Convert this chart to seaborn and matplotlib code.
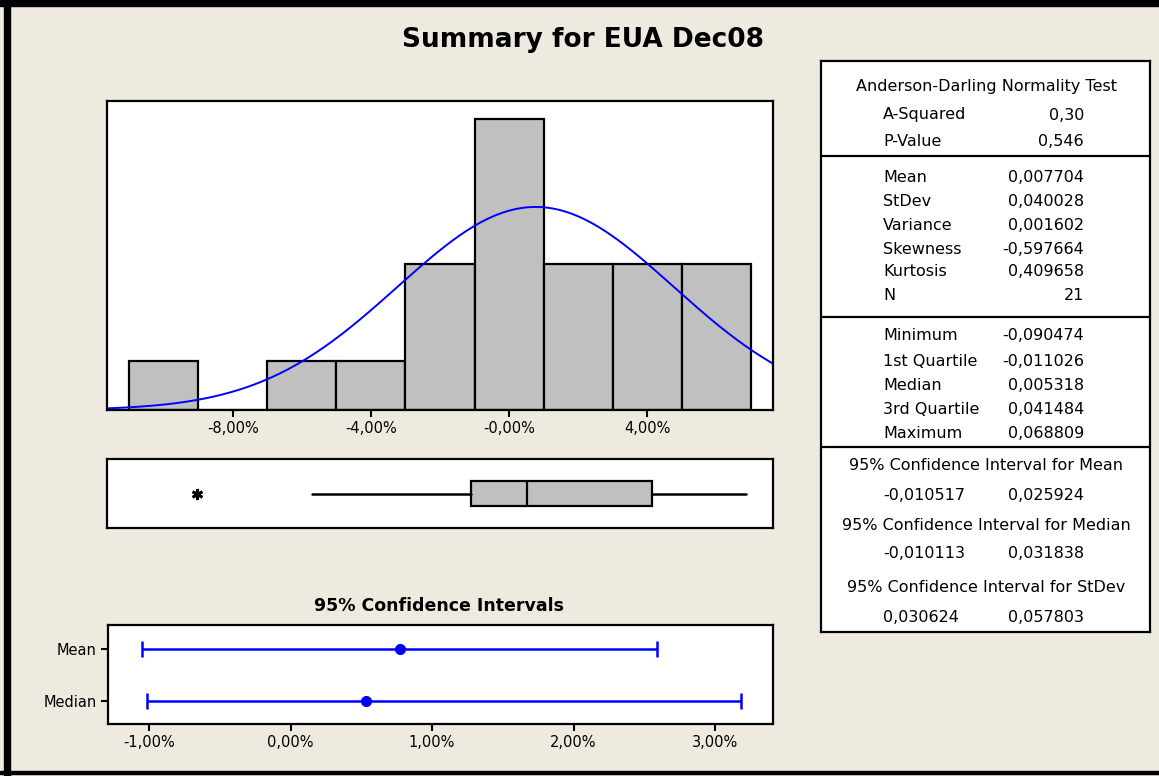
import numpy as np
import pandas as pd
import matplotlib
matplotlib.use("Agg")
import matplotlib.pyplot as plt
from matplotlib.patches import Rectangle
import seaborn as sns

# ---------------- data ----------------
bin_centers = [-0.10, -0.06, -0.04, -0.02, 0.00, 0.02, 0.04, 0.06]
bin_counts = [1, 1, 1, 3, 6, 3, 3, 3]
bin_width = 0.02

n_obs = 21
mean_val = 0.007704
stdev_val = 0.040028

box_min = -0.090474
box_q1 = -0.011026
box_median = 0.005318
box_q3 = 0.041484
box_max = 0.068809
box_whisker_low = -0.0572   # lowest non-outlier value
box_outliers = [-0.090474]

hist_ticks = [-0.08, -0.04, 0.0, 0.04]
hist_tick_labels = ["-8,00%", "-4,00%", "-0,00%", "4,00%"]

ci_labels = ["Mean", "Median"]
ci_centers = [0.007704, 0.005318]
ci_lows = [-0.010517, -0.010113]
ci_highs = [0.025924, 0.031838]
ci_ticks = [-0.01, 0.0, 0.01, 0.02, 0.03]
ci_tick_labels = ["-1,00%", "0,00%", "1,00%", "2,00%", "3,00%"]

table_title = "Anderson-Darling Normality Test"
ad_labels = ["A-Squared", "P-Value"]
ad_values = ["0,30", "0,546"]
moment_labels = ["Mean", "StDev", "Variance", "Skewness", "Kurtosis", "N"]
moment_values = ["0,007704", "0,040028", "0,001602", "-0,597664", "0,409658", "21"]
quant_labels = ["Minimum", "1st Quartile", "Median", "3rd Quartile", "Maximum"]
quant_values = ["-0,090474", "-0,011026", "0,005318", "0,041484", "0,068809"]
ci_table_titles = ["95% Confidence Interval for Mean",
                   "95% Confidence Interval for Median",
                   "95% Confidence Interval for StDev"]
ci_table_values = [("-0,010517", "0,025924"),
                   ("-0,010113", "0,031838"),
                   ("0,030624", "0,057803")]

# ---------------- style ----------------
sns.set_style("white")
plt.rcParams['font.family'] = ['DejaVu Sans']
plt.rcParams['text.color'] = 'black'
plt.rcParams['xtick.color'] = 'black'
plt.rcParams['ytick.color'] = 'black'
plt.rcParams['axes.labelcolor'] = 'black'
BG = "#EEEAE0"
W, H = 1159, 776

fig = plt.figure(figsize=(W / 100, H / 100), dpi=100, facecolor=BG)

def rect(l, t, r, b):
    return [l / W, 1 - b / H, (r - l) / W, (b - t) / H]

# ---------------- histogram ----------------
axh = fig.add_axes(rect(107, 101, 773, 410))
hist_df = pd.DataFrame({"ret": bin_centers, "count": bin_counts})
edge_list = [round(bin_centers[0] - bin_width / 2 + i * bin_width, 6)
             for i in range(int(round((bin_centers[-1] - bin_centers[0]) / bin_width)) + 2)]
sns.histplot(data=hist_df, x="ret", weights="count", bins=edge_list, ax=axh,
             color="#C0C0C0", edgecolor="black", linewidth=1.6, alpha=1.0)
xlim_h = (-0.1165, 0.0765)
xs = np.linspace(xlim_h[0], xlim_h[1], 400)
ys = n_obs * bin_width * np.exp(-0.5 * ((xs - mean_val) / stdev_val) ** 2) / (stdev_val * np.sqrt(2 * np.pi))
sns.lineplot(x=xs, y=ys, ax=axh, color="#0000FF", linewidth=1.4)
axh.set_xlim(*xlim_h)
axh.set_ylim(0, 6.37)
axh.set_xticks(hist_ticks)
axh.set_xticklabels(hist_tick_labels, fontsize=10.5)
axh.set_yticks([])
axh.set_xlabel("")
axh.set_ylabel("")
axh.tick_params(axis="x", direction="out", length=5, width=1.5, bottom=True, pad=3)
for s in axh.spines.values():
    s.set_linewidth(1.6)
    s.set_color("black")

# ---------------- boxplot ----------------
axb = fig.add_axes(rect(107, 459, 773, 528))
stats = [dict(med=box_median, q1=box_q1, q3=box_q3, whislo=box_whisker_low,
              whishi=box_max, fliers=box_outliers)]
axb.bxp(stats, positions=[0], widths=0.7, orientation="horizontal", showcaps=False,
        patch_artist=True,
        boxprops=dict(facecolor="#C0C0C0", edgecolor="black", linewidth=1.6),
        medianprops=dict(color="black", linewidth=1.6),
        whiskerprops=dict(color="black", linewidth=1.8),
        flierprops=dict(marker=(6, 2, 0), markersize=8, markeredgecolor="black",
                        markeredgewidth=2, markerfacecolor="black"))
axb.set_xlim(*xlim_h)
axb.set_ylim(-1, 1)
axb.set_xticks([])
axb.set_yticks([])
for s in axb.spines.values():
    s.set_linewidth(1.6)
    s.set_color("black")

# ---------------- confidence intervals ----------------
axc = fig.add_axes(rect(108, 625, 773, 724))
ypos = [1, 0]
for y, c, lo, hi in zip(ypos, ci_centers, ci_lows, ci_highs):
    axc.errorbar([c], [y], xerr=[[c - lo], [hi - c]], fmt="o", color="#0000FF",
                 ecolor="#0000FF", elinewidth=1.8, capsize=6, capthick=1.8,
                 markersize=7)
axc.set_xlim(-0.0129, 0.0341)
axc.set_ylim(-0.44, 1.46)
axc.set_yticks(ypos)
axc.set_yticklabels(ci_labels, fontsize=10.5)
axc.set_xticks(ci_ticks)
axc.set_xticklabels(ci_tick_labels, fontsize=10.5)
axc.tick_params(axis="both", direction="out", length=5, width=1.5,
                bottom=True, left=True, pad=3)
for s in axc.spines.values():
    s.set_linewidth(1.6)
    s.set_color("black")
fig.text(439 / W, 1 - 606 / H, "95% Confidence Intervals", ha="center", va="center",
         fontsize=12.5, fontweight="bold")

# ---------------- title ----------------
fig.text(583 / W, 1 - 40 / H, "Summary for EUA Dec08", ha="center", va="center",
         fontsize=19, fontweight="bold")

# ---------------- table ----------------
axt = fig.add_axes(rect(821, 61, 1150, 632))
axt.set_xlim(821, 1150)
axt.set_ylim(632, 61)
axt.set_xticks([])
axt.set_yticks([])
axt.set_facecolor("white")
for s in axt.spines.values():
    s.set_linewidth(1.6)
    s.set_color("black")
for yd in [156, 317, 447]:
    axt.axhline(yd, color="black", linewidth=1.6)

fs = 11.5
LX, VX, CX = 883, 1084, 986
axt.text(CX, 86, table_title, ha="center", va="center", fontsize=fs)
for lab, val, y in zip(ad_labels, ad_values, [115, 141]):
    axt.text(LX, y, lab, ha="left", va="center", fontsize=fs)
    axt.text(VX, y, val, ha="right", va="center", fontsize=fs)
for lab, val, y in zip(moment_labels, moment_values, [178, 202, 225, 249, 272, 296]):
    axt.text(LX, y, lab, ha="left", va="center", fontsize=fs)
    axt.text(VX, y, val, ha="right", va="center", fontsize=fs)
for lab, val, y in zip(quant_labels, quant_values, [335, 361, 385, 409, 433]):
    axt.text(LX, y, lab, ha="left", va="center", fontsize=fs)
    axt.text(VX, y, val, ha="right", va="center", fontsize=fs)
for t, (v1, v2), yt, yv in zip(ci_table_titles, ci_table_values,
                               [466, 525, 587], [495, 553, 618]):
    axt.text(CX, yt, t, ha="center", va="center", fontsize=fs)
    axt.text(LX, yv, v1, ha="left", va="center", fontsize=fs)
    axt.text(VX, yv, v2, ha="right", va="center", fontsize=fs)

# ---------------- outer frame ----------------
fig.patches.append(Rectangle((0, 1 - 6 / H), 1, 6 / H, transform=fig.transFigure,
                             color="black", zorder=10))
fig.patches.append(Rectangle((4 / W, 0), 6 / W, 1, transform=fig.transFigure,
                             color="black", zorder=10))
fig.patches.append(Rectangle((0, 2 / H), 1, 3 / H, transform=fig.transFigure,
                             color="black", zorder=10))

fig.savefig("out.png", dpi=100, facecolor=BG)
